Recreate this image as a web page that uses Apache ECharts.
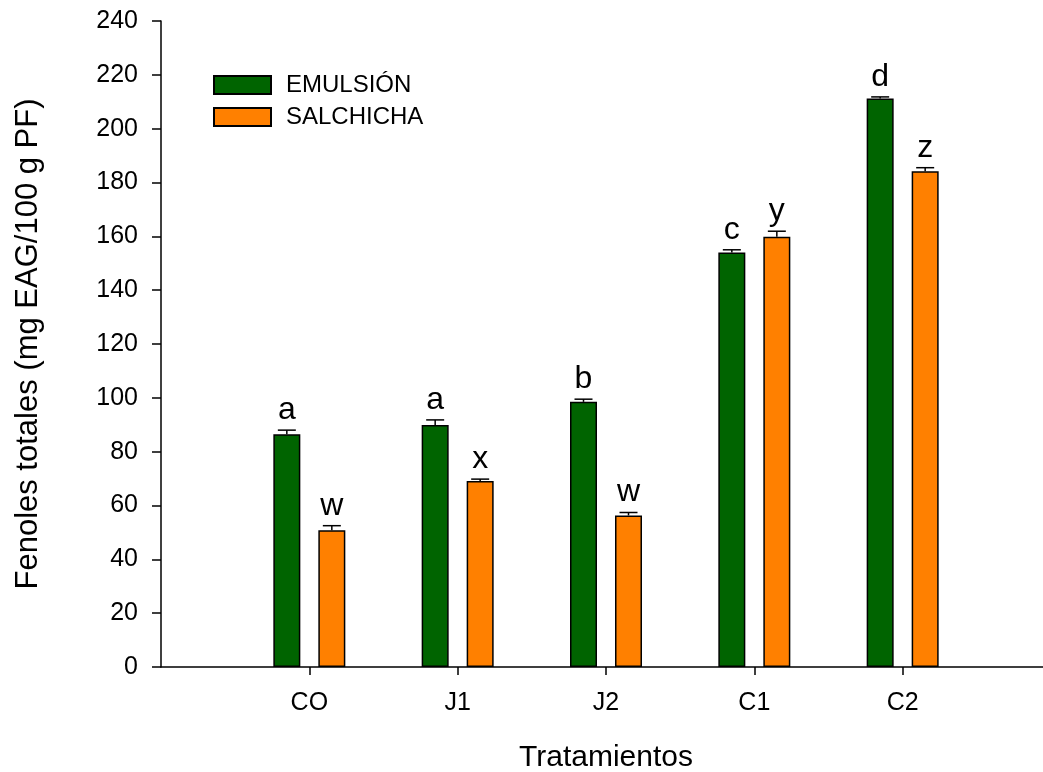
<!DOCTYPE html>
<html>
<head>
<meta charset="utf-8">
<title>Fenoles totales</title>
<script src="https://cdn.jsdelivr.net/npm/echarts@6/dist/echarts.min.js"></script>
<style>
  html, body { margin: 0; padding: 0; background: #ffffff; }
  #chart { width: 1043px; height: 772px; }
</style>
</head>
<body>
<div id="chart"></div>
<script>
// Treatments on the x axis
const categories = ['CO', 'J1', 'J2', 'C1', 'C2'];
const seriesNames = ['EMULSIÓN', 'SALCHICHA'];

// Total phenols (mg EAG/100 g PF), mean values
const emulsionValues = [86.5, 89.9, 98.5, 154.0, 211.2];
const salchichaValues = [50.8, 69.1, 56.3, 159.8, 184.2];

// Standard errors (upper whisker only)
const emulsionErrors = [1.5, 1.9, 1.0, 1.0, 0.6];
const salchichaErrors = [1.7, 0.7, 1.1, 2.1, 1.3];

// Significance letters above each bar
const emulsionLetters = ['a', 'a', 'b', 'c', 'd'];
const salchichaLetters = ['w', 'x', 'w', 'y', 'z'];

// Y axis ticks
const yMin = 0, yMax = 240, yStep = 20;

const FONT = 'Liberation Sans, Arial, sans-serif';
const BAR_W = 27;
const BAR_GAP = 18;
const colors = ['#006400', '#ff8000'];

// Padded category list so the groups sit one step apart from the y axis
const axisCats = [''].concat(categories, ['']);

function pairs(vals) { return vals.map((v, i) => [i + 1, v]); }

function errorSeries(vals, errs, letters, side) {
  const shift = side * (BAR_W + BAR_GAP) / 2;
  return {
    type: 'custom',
    z: 5,
    silent: true,
    data: vals.map((v, i) => [i + 1, v, errs[i], letters[i]]),
    renderItem: function (params, api) {
      const base = api.coord([api.value(0), api.value(1)]);
      const top = api.coord([api.value(0), api.value(1) + api.value(2)]);
      const x = base[0] + shift;
      const cap = 9;
      const style = { stroke: '#000', lineWidth: 1.5 };
      return {
        type: 'group',
        children: [
          { type: 'line', shape: { x1: x, y1: base[1], x2: x, y2: top[1] }, style: style },
          { type: 'line', shape: { x1: x - cap, y1: top[1], x2: x + cap, y2: top[1] }, style: style },
          {
            type: 'text',
            style: {
              text: letters[params.dataIndex],
              x: x, y: top[1] - 4,
              align: 'center', verticalAlign: 'bottom',
              fontSize: 32, fontFamily: FONT, fill: '#000'
            }
          }
        ]
      };
    }
  };
}

const chart = echarts.init(document.getElementById('chart'), null, { renderer: 'canvas' });

chart.setOption({
  animation: false,
  backgroundColor: '#ffffff',
  grid: { left: 161, right: -8, top: 21, bottom: 105, containLabel: false, outerBoundsMode: 'none' },
  legend: {
    orient: 'vertical',
    left: 208, top: 68,
    itemWidth: 57, itemHeight: 18, itemGap: 8,
    icon: 'rect',
    selectedMode: false,
    data: seriesNames,
    textStyle: { fontSize: 24, fontFamily: FONT, color: '#000', padding: [0, 0, 0, 10] }
  },
  xAxis: {
    type: 'category',
    data: axisCats,
    boundaryGap: false,
    name: 'Tratamientos',
    nameLocation: 'middle',
    nameGap: 76,
    nameTextStyle: { fontSize: 30, fontFamily: FONT, color: '#000' },
    axisLine: { lineStyle: { color: '#000', width: 1.5 } },
    axisTick: {
      length: 8, inside: false,
      interval: function (i) { return i >= 1 && i <= categories.length; },
      lineStyle: { color: '#000', width: 1.5 }
    },
    axisLabel: {
      interval: function (i) { return i >= 1 && i <= categories.length; },
      margin: 24, fontSize: 25, fontFamily: FONT, color: '#000'
    },
    splitLine: { show: false }
  },
  yAxis: {
    type: 'value',
    min: yMin, max: yMax, interval: yStep,
    name: 'Fenoles totales (mg EAG/100 g PF)',
    nameLocation: 'middle',
    nameGap: 117,
    nameRotate: 90,
    nameTextStyle: { fontSize: 31, fontFamily: FONT, color: '#000' },
    axisLine: { show: true, lineStyle: { color: '#000', width: 1.5 } },
    axisTick: { show: true, length: 9, inside: false, lineStyle: { color: '#000', width: 1.5 } },
    axisLabel: { margin: 23, fontSize: 25, fontFamily: FONT, color: '#000' },
    splitLine: { show: false }
  },
  series: [
    {
      name: seriesNames[0], type: 'bar',
      data: pairs(emulsionValues),
      barWidth: BAR_W, barGap: (BAR_GAP / BAR_W * 100) + '%',
      itemStyle: { color: colors[0], borderColor: '#000', borderWidth: 1.5 }
    },
    {
      name: seriesNames[1], type: 'bar',
      data: pairs(salchichaValues),
      barWidth: BAR_W, barGap: (BAR_GAP / BAR_W * 100) + '%',
      itemStyle: { color: colors[1], borderColor: '#000', borderWidth: 1.5 }
    },
    errorSeries(emulsionValues, emulsionErrors, emulsionLetters, -1),
    errorSeries(salchichaValues, salchichaErrors, salchichaLetters, 1)
  ]
});
</script>
</body>
</html>
